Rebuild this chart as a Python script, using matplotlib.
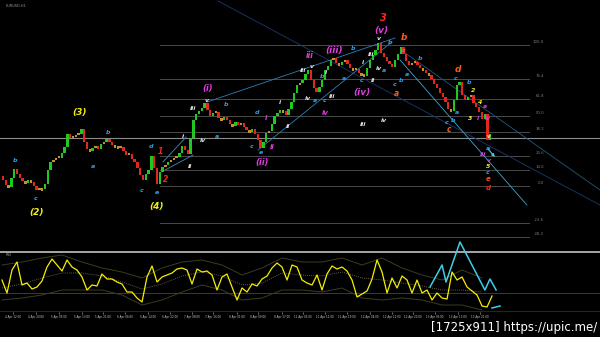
import numpy as np
import matplotlib
matplotlib.use("Agg")
import matplotlib.pyplot as plt

# ---------------- data ----------------
closes = [70, 65, 63, 72, 81, 76, 72, 69, 67, 70,
          68, 64, 60, 62, 61, 66, 80, 88, 90, 92,
          92, 97, 103, 116, 112, 113, 115, 116, 121, 108,
          101, 99, 102, 104, 101, 106, 108, 111, 108, 105,
          104, 102, 103, 99, 95, 96, 91, 88, 82, 75,
          70, 76, 80, 94, 82, 66, 78, 83, 85, 88,
          90, 92, 93, 97, 104, 100, 96, 112, 130, 136,
          139, 142, 147, 140, 134, 137, 138, 132, 130, 133,
          130, 126, 124, 128, 125, 127, 123, 120, 118, 121,
          116, 110, 102, 108, 117, 119, 126, 134, 137, 140,
          139, 135, 141, 148, 157, 165, 167, 170, 176, 180,
          170, 162, 158, 163, 170, 180, 184, 190, 192, 187,
          185, 188, 190, 186, 182, 180, 181, 177, 176, 174,
          182, 190, 195, 200, 207, 197, 193, 189, 186, 183,
          190, 196, 203, 196, 189, 185, 187, 188, 185, 182,
          180, 177, 175, 171, 166, 162, 157, 153, 148, 141,
          139, 150, 165, 168, 155, 150, 153, 155, 147, 143,
          138, 131, 136, 110, 116]
first_open = 74

osc = [32, 19, 42, 50, 27, 29, 23, 25, 31, 45, 53, 47, 41, 52, 45, 42, 35, 22, 27, 26,
       38, 33, 33, 30, 28, 20, 20, 14, 10, 35, 46, 30, 35, 37, 39, 43, 44, 42, 28, 43,
       40, 41, 37, 22, 35, 38, 25, 12, 24, 20, 28, 26, 33, 36, 44, 49, 45, 32, 47, 45,
       32, 29, 27, 37, 22, 38, 46, 43, 45, 41, 32, 15, 18, 21, 33, 52, 40, 19, 34, 24,
       36, 32, 19, 32, 19, 22, 12, 19, 14, 13, 40, 32, 35, 25, 21, 17, 6, 5, 16]
osc_ma = [24, 28, 34, 39, 39, 36, 30, 23, 28, 36, 40, 36, 27, 29, 39, 37, 36, 40, 34, 32,
          29, 26, 22, 22, 20]
osc_up = [47, 50, 54, 57, 50, 44, 40, 34, 44, 50, 52, 47, 37, 44, 54, 50, 50, 54, 47, 54,
          44, 37, 32, 42, 34]
osc_dn = [12, 14, 17, 22, 22, 22, 17, 7, 12, 20, 27, 22, 12, 14, 22, 22, 20, 24, 14, 12,
          14, 12, 7, 7, 2]

zz_x = [152.5, 156.8, 158.2, 163.2, 172.1, 173.9, 176.1]
zz_v = [25, 47, 30, 70, 22, 33, 22]
zz2_x = [174.6, 177.5]
zz2_v = [4, 6]

tick_pos = [3.6, 11.8, 20.0, 28.2, 35.7, 43.6, 51.8, 59.6, 67.5, 75.0, 83.6, 91.1,
            99.6, 107.1, 115.0, 122.9, 131.1, 138.9, 146.4, 154.3, 162.5, 170.4]
tick_labels = ["4 Apr 12:00", "4 Apr 20:00", "5 Apr 05:00", "5 Apr 13:00", "5 Apr 21:00",
               "6 Apr 06:00", "6 Apr 14:00", "6 Apr 22:00", "7 Apr 08:00", "7 Apr 16:00",
               "8 Apr 01:00", "8 Apr 09:00", "8 Apr 17:00", "11 Apr 03:00", "11 Apr 11:00",
               "11 Apr 19:00", "12 Apr 04:00", "12 Apr 12:00", "12 Apr 20:00",
               "13 Apr 05:00", "13 Apr 13:00", "13 Apr 21:00"]

fib_levels = [205, 171, 151, 134, 118, 94, 80, 64, 27, 13]
fib_names = ["100.0", "76.4", "61.8", "50.0", "38.2", "23.6", "14.6", "0.0", "-23.6", "-38.2"]
fib_start, fib_end = 56, 188
price_line = 112

trend_lines = [((76.8, 249), (213.2, 45), "#1a3a70"),
               ((141.8, 190), (187.1, 45), "#3fa6d0"),
               ((143.6, 197), (213.2, 60), "#1d5b7a"),
               ((72.9, 148), (140.0, 212), "#2d7fb5"),
               ((91.1, 100), (138.9, 208), "#2d7fb5"),
               ((57.1, 88), (65.4, 113), "#3a8fc0"),
               ((57.9, 80), (67.9, 95), "#3a8fc0")]

# wave labels: (text, bar, price, colour, size)
C, W, M, R, O, Y = "#2f9fe8", "#e6e6e6", "#e03be0", "#ff2424", "#ff5a1a", "#f2ee10"
labels = [
    ("b", 4.3, 89, C, 4.5), ("c", 11.8, 52, C, 4.5), ("a", 32.1, 83, C, 4.5),
    ("b", 37.5, 117, C, 4.5), ("c", 49.6, 59, C, 4.5), ("d", 52.9, 104, C, 4.5),
    ("e", 55.0, 58, C, 4.5), ("b", 79.6, 145, C, 4.5), ("a", 76.4, 113, C, 4.5),
    ("d", 90.7, 137, C, 4.5), ("c", 88.9, 103, C, 4.5), ("e", 92.1, 97, C, 4.5),
    ("a", 111.4, 150, C, 4.5), ("c", 115.0, 149, C, 4.5), ("b", 113.9, 173, C, 4.5),
    ("b", 125.0, 202, C, 4.5), ("b", 138.2, 208, C, 4.5), ("c", 142.9, 199, C, 4.5),
    ("a", 136.1, 179, C, 4.5), ("a", 121.8, 171, C, 4.5), ("c", 127.9, 169, C, 4.5),
    ("c", 139.9, 165, C, 4.5), ("b", 148.9, 192, C, 4.5), ("c", 161.8, 171, C, 4.5),
    ("b", 166.4, 167, C, 4.5), ("a", 162.1, 137, C, 4.5), ("b", 160.7, 130, C, 4.5),
    ("c", 158.6, 128, C, 4.5), ("a", 173.2, 102, C, 4.5), ("c", 173.2, 78, C, 4.5),
    ("a", 144.3, 175, C, 4.5), ("b", 142.1, 170, C, 4.5),
    ("v", 72.9, 150, W, 4.5), ("iii", 67.9, 141, W, 4.5), ("i", 64.3, 114, W, 4.5),
    ("iv", 71.4, 109, W, 4.5), ("ii", 66.8, 83, W, 4.5), ("i", 98.9, 147, W, 4.5),
    ("ii", 101.8, 124, W, 4.5), ("iii", 107.1, 179, W, 4.5), ("v", 110.4, 184, W, 4.5),
    ("iv", 108.9, 151, W, 4.5), ("i", 115.4, 177, W, 4.5), ("iii", 131.4, 196, W, 4.5),
    ("i", 128.6, 187, W, 4.5), ("iv", 134.3, 181, W, 4.5), ("v", 134.3, 211, W, 4.5),
    ("ii", 132.1, 170, W, 4.5), ("iii", 117.5, 153, W, 4.5), ("iii", 128.6, 125, W, 4.5),
    ("iv", 136.1, 129, W, 4.5), ("v", 173.2, 113, W, 4),
    ("(i)", 73.2, 161, M, 6), ("i", 93.9, 132, M, 5), ("ii", 96.1, 103, M, 5),
    ("(ii)", 92.5, 87, M, 6), ("iii", 109.6, 194, M, 5.5), ("(iii)", 118.2, 199, M, 6.5),
    ("iv", 115.0, 137, M, 5), ("(iv)", 128.2, 158, M, 6.5), ("(v)", 135.0, 219, M, 6.5),
    ("a", 172.1, 143, M, 4.5), ("i", 169.6, 132, M, 4.5), ("iv", 173.2, 132, M, 4.5),
    ("iii", 171.4, 96, M, 4.5), ("v", 173.6, 90, M, 4.5),
    ("1", 56.1, 98, R, 5.5), ("2", 57.9, 70, R, 5.5), ("3", 135.7, 232, R, 7),
    ("d", 173.2, 62, R, 5),
    ("b", 143.2, 212, O, 6.5), ("a", 140.4, 156, O, 5.5), ("c", 159.3, 120, O, 5.5),
    ("d", 162.5, 180, O, 6.5), ("e", 173.2, 71, O, 5),
    ("(3)", 27.5, 138, Y, 6.5), ("(2)", 12.1, 38, Y, 6.5), ("(4)", 55.0, 44, Y, 6.5),
    ("2", 167.9, 159, Y, 4.5), ("4", 170.4, 148, Y, 4.5), ("3", 166.8, 132, Y, 4.5),
    ("5", 173.2, 84, Y, 4.5),
]

# ---------------- figure ----------------
W_PX, H_PX = 600, 337
fig = plt.figure(figsize=(6.0, 3.37), dpi=100, facecolor="black")
ax = fig.add_axes([0, (H_PX - 251) / H_PX, 1, 251 / H_PX])
axo = fig.add_axes([0, (H_PX - 312) / H_PX, 1, 61 / H_PX])
for a in (ax, axo):
    a.set_facecolor("black")
    for s in a.spines.values():
        s.set_visible(False)
    a.set_xlim(-1.07, 213.2)
ax.set_ylim(-1, 250)
axo.set_ylim(0, 61)
ax.set_xticks([]); ax.set_yticks([])
axo.set_yticks([])

# horizontal levels
ax.axhline(price_line, color="#8c8c8c", lw=0.8, zorder=1)
for lv, nm in zip(fib_levels, fib_names):
    ax.plot([fib_start, fib_end], [lv, lv], color="#4a4a4a", lw=0.7, zorder=1)
    ax.text(fib_end + 5.2, lv + 1.2, nm, color="#7a7a7a", fontsize=2.8,
            ha="right", va="bottom")

# trend lines
for (x1, y1), (x2, y2), col in trend_lines:
    ax.plot([x1, x2], [y1, y2], color=col, lw=0.6, zorder=2)

# candles
idx = np.arange(len(closes))
opens = np.array([first_open] + closes[:-1], dtype=float)
cl = np.array(closes, dtype=float)
diff = cl - opens
cols = np.where(np.abs(diff) <= 2, "#c8902e", np.where(diff > 0, "#22c722", "#e2281c"))
heights = np.where(np.abs(diff) < 2.5, np.where(diff >= 0, 2.5, -2.5), diff)
ax.bar(idx, heights, bottom=opens, width=0.8, color=cols, linewidth=0, zorder=3)

# labels
for t, x, y, c, s in labels:
    ax.text(x, y, t, color=c, fontsize=s, fontweight="bold", fontstyle="italic",
            ha="center", va="center", zorder=5)

# final arrow
ax.annotate("", xy=(176.3, 91), xytext=(172.6, 103),
            arrowprops=dict(arrowstyle="-|>", color="#3fd0f0", lw=0.8,
                            mutation_scale=4), zorder=6)

ax.text(1, 246, "EURUSD,H1", color="#9a9a9a", fontsize=2.5, ha="left", va="top")

# ---------------- oscillator ----------------
osc_x = (-1 + 5 * np.arange(len(osc))) / 2.8
band_x = (-1 + 20 * np.arange(len(osc_ma))) / 2.8
axo.axhline(60.3, color="#b4b4b4", lw=1.3)
axo.axhline(19, color="#3a3a3a", lw=0.7)
axo.axhline(0.5, color="#bdbdbd", lw=1.0)
axo.plot(band_x, osc_up, color="#3d3d1c", lw=0.7)
axo.plot(band_x, osc_dn, color="#3d3d1c", lw=0.7)
axo.plot(band_x, osc_ma, color="#8a7a6a", lw=0.6, ls=(0, (1, 1.5)))
axo.plot(osc_x, osc, color="#f4f000", lw=0.9)
axo.plot(zz_x, zz_v, color="#3ccfea", lw=1.1, clip_on=False, zorder=5)
axo.plot(zz2_x, zz2_v, color="#3ccfea", lw=1.1, clip_on=False, zorder=5)
axo.text(1, 59, "RSI", color="#9a9a9a", fontsize=2.5, ha="left", va="top")

axo.set_xticks(tick_pos)
axo.set_xticklabels(tick_labels, fontsize=2.0, color="#c8c8c8")
axo.tick_params(axis="x", length=1.2, width=0.4, color="#c8c8c8", pad=1.2)

fig.text(0.995, (H_PX - 327) / H_PX, "[1725x911] https://upic.me/", color="white",
         fontsize=8.5, ha="right", va="center")

fig.savefig("out.png", dpi=100, facecolor="black")
